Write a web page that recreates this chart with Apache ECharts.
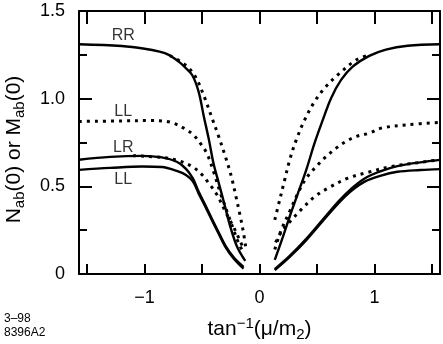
<!DOCTYPE html>
<html>
<head>
<meta charset="utf-8">
<script src="https://cdn.jsdelivr.net/npm/echarts@6/dist/echarts.min.js"></script>
<style>
  html, body { margin: 0; padding: 0; background: #fff; }
  #main { width: 443px; height: 344px; }
</style>
</head>
<body>
<div id="main"></div>
<script>
// x = tan^-1(mu/m2), left branch (negative) and right branch (positive)
var rrSolidLX = [-1.571, -1.2, -1.0, -0.87, -0.79, -0.70, -0.65, -0.586, -0.53, -0.485, -0.44, -0.40, -0.355, -0.30, -0.254, -0.196, -0.124];
var rrSolidLY = [1.31, 1.30, 1.285, 1.268, 1.25, 1.21, 1.18, 1.135, 1.04, 0.90, 0.765, 0.63, 0.52, 0.385, 0.27, 0.157, 0.075];
var rrDotLX = [-0.78, -0.673, -0.60, -0.543, -0.476, -0.413, -0.355, -0.297, -0.245, -0.205, -0.167, -0.139, -0.119];
var rrDotLY = [1.245, 1.206, 1.164, 1.107, 1.003, 0.889, 0.784, 0.670, 0.556, 0.442, 0.328, 0.234, 0.148];
var llDotLX = [-1.571, -1.2, -0.96, -0.79, -0.643, -0.571, -0.514, -0.456, -0.398, -0.34, -0.283, -0.225, -0.182, -0.139];
var llDotLY = [0.87, 0.873, 0.875, 0.868, 0.826, 0.79, 0.745, 0.685, 0.58, 0.461, 0.357, 0.252, 0.177, 0.12];
var lrDotLX = [-1.1, -0.82, -0.70, -0.586, -0.50, -0.442, -0.37, -0.30, -0.26, -0.216, -0.18, -0.15];
var lrDotLY = [0.675, 0.663, 0.645, 0.613, 0.566, 0.518, 0.452, 0.36, 0.31, 0.255, 0.205, 0.16];
var lrSolidLX = [-1.571, -1.3, -1.02, -0.85, -0.72, -0.64, -0.58, -0.53, -0.47, -0.413, -0.355, -0.297, -0.225, -0.139];
var lrSolidLY = [0.652, 0.668, 0.674, 0.665, 0.64, 0.60, 0.545, 0.47, 0.39, 0.313, 0.237, 0.162, 0.095, 0.04];
var llSolidLY = [0.594, 0.605, 0.613, 0.610, 0.588, 0.565, 0.528, 0.46, 0.383, 0.305, 0.23, 0.155, 0.088, 0.03];

var rrSolidRX = [0.133, 0.205, 0.263, 0.335, 0.407, 0.479, 0.551, 0.623, 0.71, 0.811, 0.955, 1.1, 1.29, 1.571];
var rrSolidRY = [0.08, 0.214, 0.328, 0.461, 0.594, 0.746, 0.879, 1.003, 1.107, 1.183, 1.244, 1.28, 1.302, 1.31];
var rrDotRX = [0.133, 0.176, 0.219, 0.263, 0.32, 0.393, 0.479, 0.566, 0.681, 0.84, 0.955];
var rrDotRY = [0.309, 0.423, 0.537, 0.651, 0.765, 0.879, 0.983, 1.06, 1.136, 1.22, 1.25];
var llDotRX = [0.133, 0.19, 0.263, 0.335, 0.407, 0.508, 0.58, 0.667, 0.753, 0.84, 0.955, 1.06, 1.29, 1.571];
var llDotRY = [0.14, 0.252, 0.357, 0.461, 0.547, 0.623, 0.67, 0.718, 0.756, 0.784, 0.803, 0.832, 0.851, 0.865];
var lrDotRX = [0.14, 0.19, 0.28, 0.366, 0.482, 0.597, 0.77, 0.944, 1.145, 1.377, 1.571];
var lrDotRY = [0.18, 0.24, 0.309, 0.37, 0.442, 0.49, 0.547, 0.58, 0.613, 0.635, 0.652];
var lrSolidRX = [0.133, 0.263, 0.407, 0.551, 0.696, 0.80, 0.915, 1.05, 1.2, 1.4, 1.571];
var lrSolidRY = [0.028, 0.103, 0.2, 0.31, 0.42, 0.487, 0.545, 0.585, 0.615, 0.637, 0.651];
var llSolidRY = [0.022, 0.097, 0.193, 0.303, 0.41, 0.475, 0.527, 0.56, 0.583, 0.593, 0.598];

// curve labels
var labelText = ['RR', 'LL', 'LR', 'LL'];
var labelX = [-1.186, -1.186, -1.186, -1.186];
var labelY = [1.358, 0.925, 0.722, 0.537];

var xTicks = [-1.5, -1, -0.5, 0, 0.5, 1, 1.5];
var xLabels = [-1, 0, 1];

var FONT = 'Liberation Sans, Arial, Helvetica, sans-serif';

function pairs(xs, ys) {
    return xs.map(function (x, i) { return [x, ys[i]]; });
}

function curve(xs, ys, dotted) {
    return {
        type: 'line',
        data: pairs(xs, ys),
        showSymbol: false,
        smooth: 0.35,
        silent: true,
        animation: false,
        lineStyle: dotted
            ? { color: '#000', width: 3, type: [3, 5] }
            : { color: '#000', width: 2.4 }
    };
}

var chartDom = document.getElementById('main');
var myChart = echarts.init(chartDom);

var richTitle = {
    m: { fontSize: 21, fontFamily: FONT, color: '#000', lineHeight: 26 },
    s: { fontSize: 15, fontFamily: FONT, color: '#000', verticalAlign: 'bottom', lineHeight: 26 },
    p: { fontSize: 15, fontFamily: FONT, color: '#000', verticalAlign: 'top', lineHeight: 26 }
};

var axisLineStyle = { color: '#000', width: 2 };

var option = {
    animation: false,
    grid: { left: 79, right: 3, top: 11, bottom: 70, outerBoundsMode: 'none' },
    xAxis: [
        {
            type: 'value',
            min: -Math.PI / 2,
            max: Math.PI / 2,
            position: 'bottom',
            splitLine: { show: false },
            axisLine: { onZero: false, lineStyle: axisLineStyle },
            axisTick: { inside: true, length: 10, customValues: xTicks, lineStyle: axisLineStyle },
            axisLabel: {
                customValues: xLabels,
                margin: 15,
                fontSize: 18,
                fontFamily: FONT,
                color: '#000',
                formatter: function (v) {
                    if (v === 0) return '0';
                    return v < 0 ? '\u2212' + Math.abs(v) : String(v);
                }
            },
            name: '{m|tan}{p|\u22121}{m|(\u03bc/m}{s|2}{m|)}',
            nameLocation: 'middle',
            nameGap: 42,
            nameTextStyle: { rich: richTitle }
        },
        {
            type: 'value',
            min: -Math.PI / 2,
            max: Math.PI / 2,
            position: 'top',
            splitLine: { show: false },
            axisLine: { onZero: false, lineStyle: axisLineStyle },
            axisTick: { inside: true, length: 13, customValues: xTicks, lineStyle: axisLineStyle },
            axisLabel: { show: false }
        }
    ],
    yAxis: [
        {
            type: 'value',
            min: 0,
            max: 1.5,
            interval: 0.5,
            position: 'left',
            splitLine: { show: false },
            axisLine: { onZero: false, lineStyle: axisLineStyle },
            axisTick: { inside: true, length: 13, lineStyle: axisLineStyle },
            minorTick: { show: true, splitNumber: 2, length: 8, lineStyle: axisLineStyle },
            minorSplitLine: { show: false },
            axisLabel: {
                margin: 14,
                fontSize: 18,
                fontFamily: FONT,
                color: '#000',
                formatter: function (v) { return v === 0 ? '0' : v.toFixed(1); }
            },
            name: '{m|N}{s|ab}{m|(0) or M}{s|ab}{m|(0)}',
            nameLocation: 'middle',
            nameGap: 52,
            nameRotate: 90,
            nameTextStyle: { rich: richTitle, padding: [0, 14, 0, 0] }
        },
        {
            type: 'value',
            min: 0,
            max: 1.5,
            interval: 0.5,
            position: 'right',
            splitLine: { show: false },
            axisLine: { onZero: false, lineStyle: axisLineStyle },
            axisTick: { inside: true, length: 13, lineStyle: axisLineStyle },
            minorTick: { show: true, splitNumber: 2, length: 8, lineStyle: axisLineStyle },
            minorSplitLine: { show: false },
            axisLabel: { show: false }
        }
    ],
    graphic: [
        { type: 'text', left: 4, top: 313, style: { text: '3\u201398', fontSize: 12, fontFamily: FONT, fill: '#000' } },
        { type: 'text', left: 4, top: 327, style: { text: '8396A2', fontSize: 12, fontFamily: FONT, fill: '#000' } }
    ],
    series: [
        curve(rrSolidLX, rrSolidLY, false),
        curve(rrDotLX, rrDotLY, true),
        curve(llDotLX, llDotLY, true),
        curve(lrDotLX, lrDotLY, true),
        curve(lrSolidLX, lrSolidLY, false),
        curve(lrSolidLX, llSolidLY, false),
        curve(rrSolidRX, rrSolidRY, false),
        curve(rrDotRX, rrDotRY, true),
        curve(llDotRX, llDotRY, true),
        curve(lrDotRX, lrDotRY, true),
        curve(lrSolidRX, lrSolidRY, false),
        curve(lrSolidRX, llSolidRY, false),
        {
            type: 'scatter',
            symbolSize: 0,
            silent: true,
            data: labelX.map(function (x, i) { return { value: [x, labelY[i]], name: labelText[i] }; }),
            label: {
                show: true,
                position: 'inside',
                formatter: '{b}',
                fontSize: 16,
                fontFamily: FONT,
                color: '#000'
            }
        }
    ]
};

option && myChart.setOption(option);
</script>
</body>
</html>
